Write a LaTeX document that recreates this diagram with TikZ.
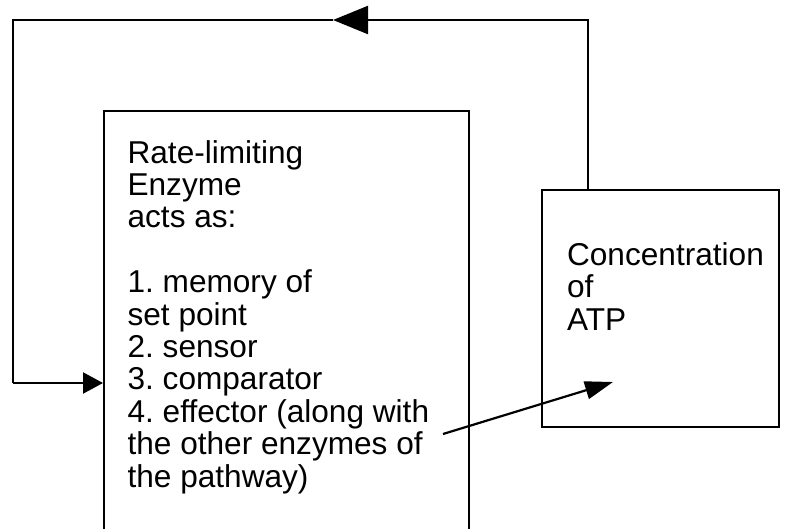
\documentclass[tikz,border=0pt]{standalone}
\usepackage{fontspec}
\setmainfont{Liberation Sans}
\usetikzlibrary{arrows.meta}
\frenchspacing
\begin{document}
\begin{tikzpicture}[x=1pt,y=-1pt,
  line width=2.2pt,
  boxshape/.style={draw, rectangle, inner sep=0pt},
  label text/.style={anchor=base west, align=left, inner sep=0pt,
    font=\fontsize{31.6}{32.4}\selectfont\frenchspacing},
  bigtip/.style={-{Triangle[length=35pt,width=28pt]}},
  smalltip/.style={-{Triangle[length=20pt,width=21pt]}},
  midtip/.style={-{Triangle[length=28pt,width=18pt]}}]
\useasboundingbox (0,0) rectangle (791,529);
\clip (0,0) rectangle (791,529);
\fill[white] (0,0) rectangle (791,529);
% boxes
\node[boxshape, minimum width=365pt, minimum height=460pt, anchor=north west] (enz) at (103,110) {};
\node[boxshape, minimum width=237pt, minimum height=237pt, anchor=north west] (atp) at (541,189) {};
% texts (anchored at the baseline of their last line)
\node[label text] (enztext) at (126.5,487) {Rate-limiting\\Enzyme\\acts as:\\ \\1. memory of\\set point\\2. sensor\\3. comparator\\4. effector (along with\\the other enzymes of\\the pathway)};
\node[label text] (atptext) at (566,330) {Concentration\\of\\ATP};
% feedback loop
\coordinate (start) at ([xshift=47pt]atp.north west);
\coordinate (tr) at (588,20);
\coordinate (tm) at (333,20);
\coordinate (tl) at (13,20);
\coordinate (bl) at (13,383);
\draw[bigtip] (start) -- (tr) -- (tm);
\draw (tm) -- (tl) -- (bl);
\draw[smalltip] (bl) -- (bl -| enz.west);
% effector arrow
\coordinate (eff) at (443,434);
\coordinate (aim) at (613,382);
\draw[midtip] (eff) -- (aim);
\end{tikzpicture}
\end{document}
